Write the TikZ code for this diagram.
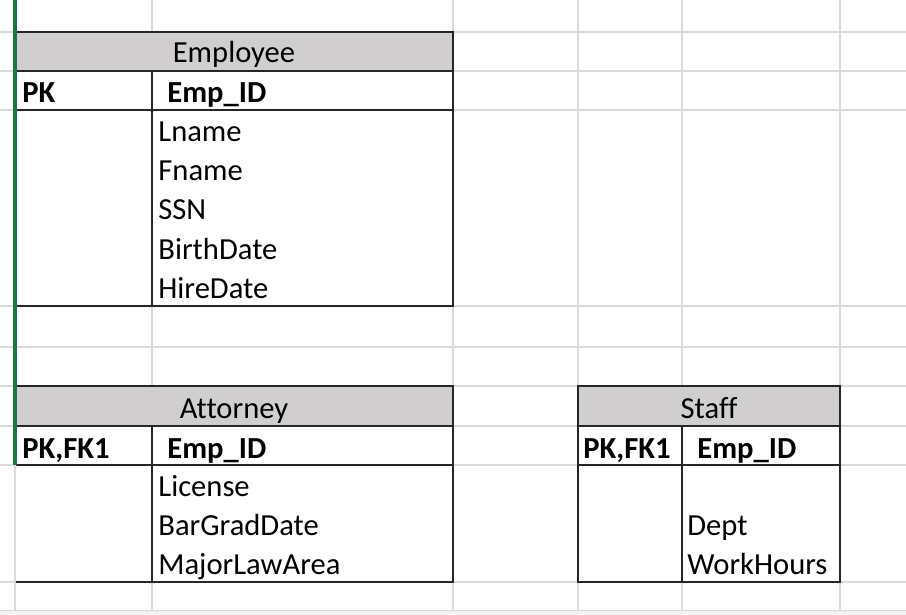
\documentclass[tikz,border=0pt]{standalone}
\usepackage{fontspec}
\setmainfont[Ligatures=NoCommon]{Carlito}
\usepackage{xcolor}
\usetikzlibrary{positioning}
\definecolor{gridgray}{HTML}{DADADA}
\definecolor{titlegray}{HTML}{D0CECE}
\definecolor{sheetgreen}{HTML}{217346}

\begin{document}
\begin{tikzpicture}[x=0.5pt,y=-0.5pt,
        grid/.style={draw=gridgray,line width=0.6pt},
        frame/.style={draw=black!85,line width=0.9pt},
        head/.style={anchor=base,inner sep=0pt,font=\fontsize{15.3}{18}\selectfont},
        field/.style={anchor=base west,inner sep=0pt,font=\fontsize{15.3}{18}\selectfont},
        key/.style={anchor=base west,inner sep=0pt,font=\fontsize{15.3}{18}\selectfont\bfseries}]
        \useasboundingbox (0,0) rectangle (906,615);
        \fill[white] (0,0) rectangle (906,615);
        % sheet grid
        \foreach \y in {32,71,110,306,347,386,426,465,582} \draw[grid] (0,\y) -- (906,\y);
        \foreach \x in {152,453,578,682,840} \draw[grid] (\x,0) -- (\x,610);
        \fill[gray!10] (0,610) rectangle (906,615);
        \draw[gray!30, line width=0.5pt] (0,610) -- (906,610);
        % Employee
        \fill[titlegray] (15,32) rectangle (453,71);
        \fill[white] (15,71) rectangle (453,306);
        \draw[frame] (15,32) rectangle (453,306) (15,71) -- (453,71) (15,110) -- (453,110) (152,71) -- (152,306);
        \node[head] (emp) at (234,63) {Employee};
        \node[key] (emppk) at (22,103) {PK};
        \node[key] (empid) at (167,103) {Emp\_ID};
        \node[field] (lname) at (158,142) {Lname};
        \node[field] (fname) at (158,181) {Fname};
        \node[field] (ssn) at (158,220) {SSN};
        \node[field] (birth) at (158,260) {BirthDate};
        \node[field] (hire) at (158,299) {HireDate};
        % Attorney
        \fill[titlegray] (15,386) rectangle (453,426);
        \fill[white] (15,426) rectangle (453,582);
        \draw[frame] (15,386) rectangle (453,582) (15,426) -- (453,426) (15,465) -- (453,465) (152,426) -- (152,582);
        \node[head] (att) at (234,418) {Attorney};
        \node[key] (attpk) at (22,458) {PK,FK1};
        \node[key] (attid) at (167,458) {Emp\_ID};
        \node[field] (license) at (158,496) {License};
        \node[field] (bargrad) at (158,535) {BarGradDate};
        \node[field] (lawarea) at (158,574) {MajorLawArea};
        % Staff
        \fill[titlegray] (578,386) rectangle (840,426);
        \fill[white] (578,426) rectangle (840,582);
        \draw[frame] (578,386) rectangle (840,582) (578,426) -- (840,426) (578,465) -- (840,465) (682,426) -- (682,582);
        \node[head] (staff) at (709,418) {Staff};
        \node[key] (staffpk) at (583,458) {PK,FK1};
        \node[key] (staffid) at (697,458) {Emp\_ID};
        \node[field] (dept) at (687,535) {Dept};
        \node[field] (hours) at (687,574) {WorkHours};
        % selected column edge
        \draw[grid, line width=1pt] (15,465) -- (15,610);
        \draw[sheetgreen, line width=1.6pt] (15,0) -- (15,465);
    \end{tikzpicture}
\end{document}
